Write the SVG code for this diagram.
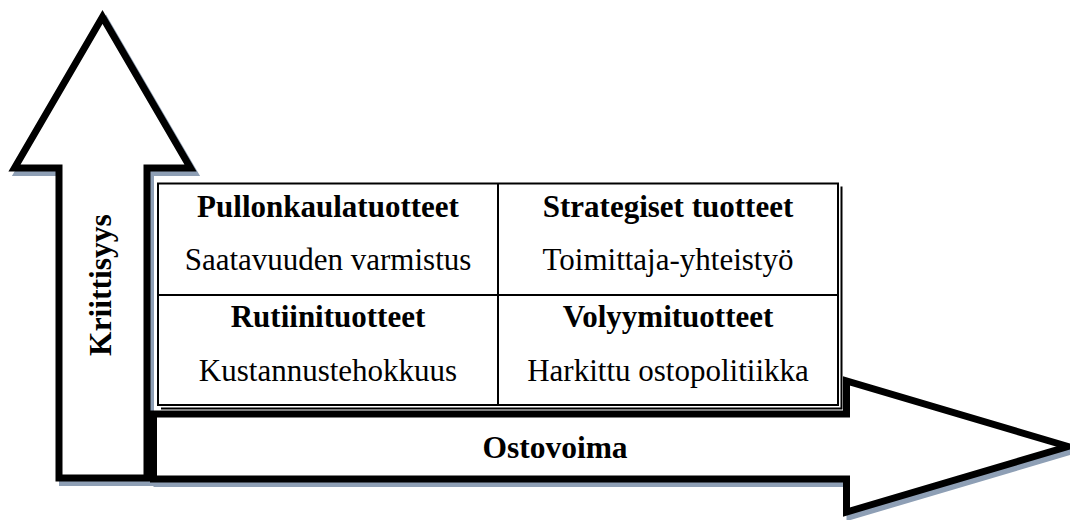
<svg xmlns="http://www.w3.org/2000/svg" width="1070" height="520" viewBox="0 0 1070 520">
  <style>
    .arrow { fill: #ffffff; stroke: #000000; stroke-width: 7; stroke-linejoin: miter; }
    .shadow { fill: #8e9fb5; stroke: #8e9fb5; stroke-width: 7; stroke-linejoin: miter; }
    .grid { fill: none; stroke: #000000; stroke-width: 2; }
    .head { font-family: "Liberation Serif", "Times New Roman", serif; font-weight: bold; font-size: 31px; text-anchor: middle; fill: #000000; }
    .sub { font-family: "Liberation Serif", "Times New Roman", serif; font-size: 31px; text-anchor: middle; fill: #000000; }
    .axis { font-family: "Liberation Serif", "Times New Roman", serif; font-weight: bold; font-size: 31.5px; text-anchor: middle; fill: #000000; }
  </style>
  <defs>
    <polygon id="upShape" points="102.5,17 190.5,168 147,168 147,478 59,478 59,168 14.5,168"/>
    <polygon id="rightShape" points="153.5,414 846.5,414 846.5,381 1068,446.5 846.5,512 846.5,479 153.5,479"/>
  </defs>

  <rect width="1070" height="520" fill="#ffffff"/>

  <!-- connectors: the two axis arrows -->
  <g id="axes">
    <g id="axis-kriittisyys">
      <use href="#upShape" class="shadow" transform="translate(3.5,4.5)"/>
      <use href="#upShape" class="arrow"/>
      <text class="axis" x="111" y="285" transform="rotate(-90 111 285)" font-size="32">Kriittisyys</text>
    </g>
    <g id="axis-ostovoima">
      <use href="#rightShape" class="shadow" transform="translate(3.5,4.5)"/>
      <use href="#rightShape" class="arrow"/>
      <text class="axis" x="555" y="458">Ostovoima</text>
    </g>
  </g>

  <!-- 2x2 matrix -->
  <g id="matrix">
    <rect x="158" y="183.5" width="680" height="221.5" fill="#ffffff"/>
    <path class="grid" d="M841.5,186.5 V408.5 H161"/>
    <rect class="grid" x="158" y="183.5" width="680" height="221.5"/>
    <path class="grid" d="M498,183.5 V405 M158,295 H838"/>

    <g id="cell-pullonkaula">
      <text class="head" x="328" y="217">Pullonkaulatuotteet</text>
      <text class="sub" x="328" y="270">Saatavuuden varmistus</text>
    </g>
    <g id="cell-strategiset">
      <text class="head" x="668" y="217">Strategiset tuotteet</text>
      <text class="sub" x="668" y="270">Toimittaja-yhteistyö</text>
    </g>
    <g id="cell-rutiini">
      <text class="head" x="328" y="327">Rutiinituotteet</text>
      <text class="sub" x="328" y="381">Kustannustehokkuus</text>
    </g>
    <g id="cell-volyymi">
      <text class="head" x="668" y="327">Volyymituotteet</text>
      <text class="sub" x="668" y="381">Harkittu ostopolitiikka</text>
    </g>
  </g>
</svg>
